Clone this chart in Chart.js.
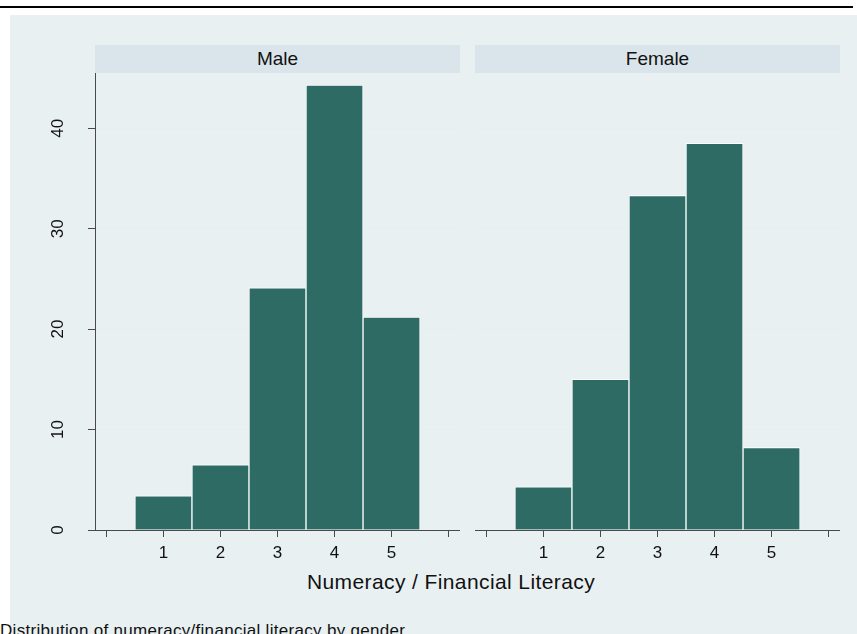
<!DOCTYPE html>
<html>
<head>
<meta charset="utf-8">
<script src="https://cdn.jsdelivr.net/npm/chart.js@4.4.1/dist/chart.umd.min.js"></script>
<style>
  body { margin: 0; width: 857px; height: 634px; overflow: hidden; background: #fff; position: relative;
         font-family: "Liberation Sans", Arial, sans-serif; }
  .linea { position: absolute; left: 0; top: 6px; width: 853px; height: 2px; background: #000; }
  .fondo { position: absolute; left: 10px; top: 15px; right: 0; bottom: 0; background: #e8f0f2; }
  .franja { position: absolute; top: 45px; height: 28px; background: #d9e5ea; color: #111;
            font-size: 19px; display: flex; align-items: center; justify-content: center; }
  .panel { position: absolute; top: 73px; height: 490px; }
  .titulo-x { position: absolute; left: 0; width: 902px; top: 570px; text-align: center; font-size: 21px;
              letter-spacing: 0.4px; color: #111; }
  .nota { position: absolute; left: 0; top: 621px; font-size: 17px; letter-spacing: 0.3px; color: #111; white-space: nowrap; }
</style>
</head>
<body>
<div class="linea"></div>
<div class="fondo"></div>
<div class="franja" id="franjaMale" style="left:95px; width:365px;"></div>
<div class="franja" id="franjaFemale" style="left:475px; width:365px;"></div>
<canvas id="graficoMale" class="panel" style="left:10px; width:450px;" width="450" height="490"></canvas>
<canvas id="graficoFemale" class="panel" style="left:475px; width:365px;" width="365" height="490"></canvas>
<div class="titulo-x" id="tituloX"></div>
<div class="nota" id="nota"></div>
<script>
// Datos: porcentaje de respuestas por puntaje y género
const grupos = ['Male', 'Female'];
const puntajes = [1, 2, 3, 4, 5];
const porcentajeMale = [3.4, 6.5, 24.1, 44.3, 21.2];
const porcentajeFemale = [4.3, 15.0, 33.3, 38.5, 8.2];
const ticksX = [0, 1, 2, 3, 4, 5, 6];
const ticksY = [0, 10, 20, 30, 40];
const tituloEjeX = 'Numeracy / Financial Literacy';
const notaPie = 'Distribution of numeracy/financial literacy by gender';

const fuente = '"Liberation Sans", Arial, sans-serif';
const colorBarra = '#2e6b64';
const colorEje = '#4a4a4a';

document.getElementById('franjaMale').textContent = grupos[0];
document.getElementById('franjaFemale').textContent = grupos[1];
document.getElementById('tituloX').textContent = tituloEjeX;
document.getElementById('nota').textContent = notaPie;

// Etiquetas del eje Y giradas 90 grados (estilo Stata)
const etiquetasYGiradas = {
    id: 'etiquetasYGiradas',
    afterDraw(chart) {
        const ctx = chart.ctx;
        const y = chart.scales.y;
        ctx.save();
        ctx.font = '17px ' + fuente;
        ctx.fillStyle = '#111';
        ctx.textAlign = 'center';
        ctx.textBaseline = 'middle';
        y.ticks.forEach(t => {
            const py = y.getPixelForValue(t.value);
            ctx.save();
            ctx.translate(y.right - 37, py);
            ctx.rotate(-Math.PI / 2);
            ctx.fillText(String(t.value), 0, 0);
            ctx.restore();
        });
        ctx.restore();
    }
};

function crearPanel(idCanvas, valores, conEjeY) {
    const ctx = document.getElementById(idCanvas).getContext('2d');
    return new Chart(ctx, {
        type: 'bar',
        data: {
            datasets: [{
                data: puntajes.map((p, i) => ({ x: p, y: valores[i] })),
                backgroundColor: colorBarra,
                borderColor: '#ffffff',
                borderWidth: 1,
                barPercentage: 1,
                categoryPercentage: 1
            }]
        },
        options: {
            responsive: false,
            animation: false,
            layout: { padding: 0 },
            plugins: {
                legend: { display: false },
                tooltip: { enabled: false }
            },
            scales: {
                x: {
                    type: 'linear',
                    min: -0.2,
                    max: 6.2,
                    offset: false,
                    z: 1,
                    afterBuildTicks: s => { s.ticks = ticksX.map(v => ({ value: v })); },
                    afterFit: s => { s.height = 33; },
                    border: { display: true, color: colorEje, width: 1 },
                    grid: { offset: false, drawOnChartArea: false, drawTicks: true, tickLength: 7, tickColor: colorEje },
                    ticks: {
                        autoSkip: false,
                        maxRotation: 0,
                        padding: 6,
                        color: '#111',
                        font: { family: fuente, size: 17 },
                        callback: v => (puntajes.includes(v) ? String(v) : '')
                    }
                },
                y: {
                    min: 0,
                    max: 45.5,
                    afterBuildTicks: s => { s.ticks = ticksY.map(v => ({ value: v })); },
                    afterFit: s => { s.width = conEjeY ? 85 : 0; },
                    border: { display: conEjeY, color: colorEje, width: 1 },
                    grid: {
                        color: '#e6eef1',
                        drawTicks: conEjeY,
                        tickLength: 7,
                        tickColor: colorEje
                    },
                    ticks: { display: false }
                }
            }
        },
        plugins: conEjeY ? [etiquetasYGiradas] : []
    });
}

crearPanel('graficoMale', porcentajeMale, true);
crearPanel('graficoFemale', porcentajeFemale, false);
</script>
</body>
</html>
